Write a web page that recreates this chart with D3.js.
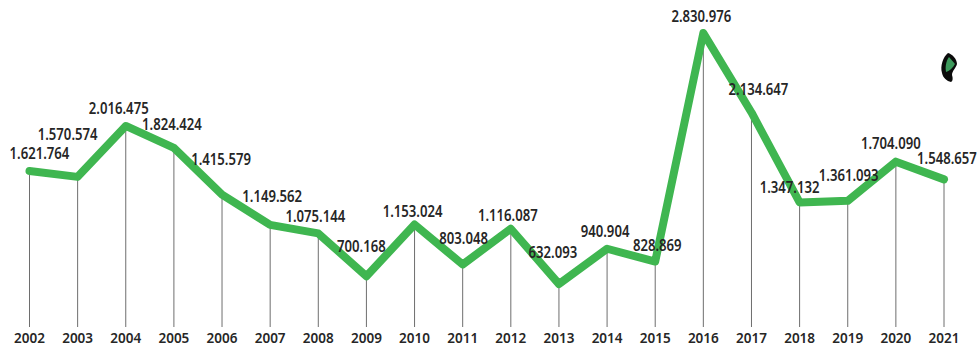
<!DOCTYPE html>
<html>
<head>
<meta charset="utf-8">
<script src="https://cdn.jsdelivr.net/npm/d3@7"></script>
<style>
  html, body { margin: 0; padding: 0; background: #fff; }
  svg { display: block; }
  text { font-family: "Noto Sans", sans-serif; fill: #262626; }
</style>
</head>
<body>
<svg id="chart" width="979" height="347"></svg>
<script>
const years = ["2002","2003","2004","2005","2006","2007","2008","2009","2010","2011",
               "2012","2013","2014","2015","2016","2017","2018","2019","2020","2021"];
const totals = [1621764,1570574,2016475,1824424,1415579,1149562,1075144,700168,1153024,803048,
                1116087,632093,940904,828869,2830976,2134647,1347132,1361093,1704090,1548657];
// Hand placement of each value label relative to its point, so labels clear the line.
const labelDx = [10,-10,-7,-2,-1,2,-3,-5,-2,1,-3,-6,-2,2,-2,7,-10,1,-5,3];
const labelDy = [-18,-43,-18,-24,-36,-29,-17,-30,-14,-26,-14,-32,-18,-17,-17,-23,-15,-26,-19,-21];

const svg = d3.select("#chart");
const baselineY = 327;
const valueCondense = 0.82;   // narrow the face: no condensed cut is available
const yearCondense = 0.9;

const x = d3.scalePoint().domain(years).range([29.5, 944]);
const y = d3.scaleLinear().domain([632093, 2830976]).range([284, 33]);

const fmt = d3.formatLocale({ decimal: ",", thousands: ".", grouping: [3], currency: ["", ""] }).format(",d");
const rows = years.map((year, i) => ({ year, value: totals[i], dx: labelDx[i], dy: labelDy[i] }));

function squeeze(selection, factor) {
  selection.each(function () {
    this.setAttribute("textLength", this.getComputedTextLength() * factor);
    this.setAttribute("lengthAdjust", "spacingAndGlyphs");
  });
}

// Drop lines from each point to the year axis
svg.append("g").selectAll("line").data(rows).join("line")
  .attr("x1", d => x(d.year)).attr("x2", d => x(d.year))
  .attr("y1", d => y(d.value)).attr("y2", baselineY)
  .attr("stroke", "#6e6e6e").attr("stroke-width", 1);

// Year labels along the bottom
svg.append("g").selectAll("text").data(rows).join("text")
  .attr("x", d => x(d.year)).attr("y", 342.5)
  .attr("text-anchor", "middle")
  .style("font-size", "15px").style("font-weight", 600)
  .text(d => d.year)
  .call(squeeze, yearCondense);

// Main series
const line = d3.line().x(d => x(d.year)).y(d => y(d.value));
svg.append("path").datum(rows)
  .attr("d", line).attr("fill", "none")
  .attr("stroke", "#3fb650").attr("stroke-width", 8)
  .attr("stroke-linejoin", "round").attr("stroke-linecap", "round");

// Value labels
svg.append("g").selectAll("text").data(rows).join("text")
  .attr("x", d => x(d.year) + d.dx).attr("y", d => y(d.value) + d.dy + 6)
  .attr("text-anchor", "middle")
  .style("font-size", "16px").style("font-weight", 600)
  .text(d => fmt(d.value))
  .call(squeeze, valueCondense);

// Small leaf mark at the upper right
const leaf = svg.append("g").attr("transform", "translate(941,53)");
leaf.append("path")
  .attr("d", "M7,0 C11,1 16,6 16,11 C15,15 11,18 11,22 C12,25 12,28 10,29 C6,28 2,25 1,20 C-1,13 2,4 7,0 Z")
  .attr("fill", "#0b0b0b");
leaf.append("path")
  .attr("d", "M8,4 L14,11 C12,15 8,18 5,19 C4,14 5,8 8,4 Z")
  .attr("fill", "#3d9a5c");
</script>
</body>
</html>
